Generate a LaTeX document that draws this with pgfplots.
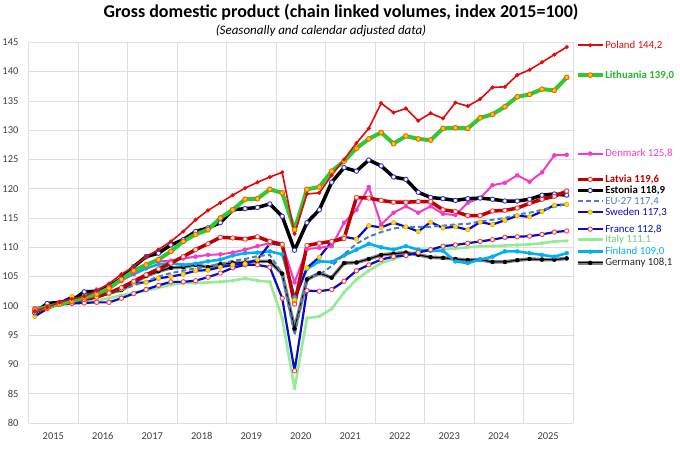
\documentclass[border=0pt]{standalone}
\usepackage{fontspec}
\setmainfont{Carlito}
\usepackage{pgfplots}
\pgfplotsset{compat=1.18}
\usepackage{pgfplotstable}
\definecolor{cPL}{RGB}{228,10,10}
\definecolor{cLT}{RGB}{50,200,50}
\definecolor{cLTt}{RGB}{40,180,40}
\definecolor{cLTm}{RGB}{255,200,0}
\definecolor{cLTd}{RGB}{230,100,10}
\definecolor{cDK}{RGB}{240,60,200}
\definecolor{cLV}{RGB}{192,0,0}
\definecolor{cEEm}{RGB}{50,50,210}
\definecolor{cEU}{RGB}{74,126,190}
\definecolor{cSE}{RGB}{10,10,200}
\definecolor{cSEm}{RGB}{255,225,0}
\definecolor{cSEd}{RGB}{220,170,0}
\definecolor{cFR}{RGB}{10,10,200}
\definecolor{cFRm}{RGB}{250,60,60}
\definecolor{cIT}{RGB}{150,235,150}
\definecolor{cITt}{RGB}{110,210,110}
\definecolor{cFI}{RGB}{0,176,240}
\definecolor{cDEg}{RGB}{128,128,128}
\definecolor{gridc}{RGB}{222,222,222}
\definecolor{tickc}{RGB}{64,64,64}
\pgfplotstableread{
i PL LT DK LV EE EU SE FR IT FI DE
0 99.1 99.3 99.6 99.1 98.8 99.3 98.2 99.5 99.6 98.9 99.3
1 99.8 99.8 100.0 99.6 100.4 99.8 99.5 100.0 99.9 100.4 99.9
2 100.6 100.3 100.4 100.5 100.6 100.2 100.5 100.3 100.2 100.6 100.3
3 101.2 100.8 100.6 100.8 100.9 100.7 101.6 100.4 100.4 101.0 100.5
4 101.6 101.4 101.4 101.1 102.4 101.3 101.3 100.5 100.7 101.8 101.6
5 102.6 102.0 102.8 101.5 102.5 101.6 101.6 100.6 100.9 102.3 102.0
6 103.8 103.0 103.3 102.2 103.3 102.1 102.1 100.6 101.3 103.3 102.2
7 105.4 104.5 104.2 103.1 104.7 102.7 102.9 101.3 101.8 104.5 102.7
8 106.7 106.0 105.6 104.2 106.7 103.5 103.9 102.1 102.2 105.4 104.0
9 108.4 107.0 107.0 105.3 108.4 104.2 104.0 102.8 102.6 106.4 105.1
10 109.6 107.9 107.6 106.3 109.0 105.0 104.7 103.5 103.1 107.1 105.9
11 111.0 109.3 107.7 107.3 110.4 105.6 105.0 104.1 103.6 107.3 106.5
12 112.7 111.0 108.1 108.4 111.3 106.0 105.4 104.1 103.9 107.0 106.6
13 114.7 112.2 108.4 109.6 112.7 106.4 106.0 104.3 103.9 107.2 107.0
14 116.3 113.0 108.7 110.6 113.3 106.7 106.1 104.9 104.0 107.6 106.6
15 117.6 115.0 108.8 111.7 114.2 107.1 106.6 105.6 104.1 107.9 107.1
16 118.9 116.4 109.1 111.6 116.4 107.7 107.0 106.5 104.3 108.6 107.3
17 120.1 118.2 109.6 111.4 116.6 108.0 107.2 107.0 104.7 109.0 107.4
18 121.1 118.3 110.2 111.8 116.8 108.5 107.9 107.0 104.3 109.1 107.6
19 122.0 119.9 110.7 111.0 117.4 108.7 110.6 106.6 104.1 109.3 107.6
20 122.8 119.3 110.6 110.5 115.3 105.5 110.4 101.3 97.9 108.8 105.5
21 112.3 113.0 104.0 100.3 109.5 95.0 101.0 88.9 85.9 101.5 96.1
22 119.1 119.9 109.7 110.3 114.2 104.8 106.5 102.6 97.9 106.3 104.5
23 119.3 120.3 109.9 110.7 116.4 105.3 108.3 102.5 98.2 107.6 105.6
24 122.3 123.0 110.2 111.0 121.1 106.8 111.0 102.8 99.5 107.5 104.8
25 125.0 124.7 114.2 111.5 123.6 108.8 111.8 104.2 102.3 108.6 107.3
26 127.8 126.9 116.4 118.5 123.0 110.6 111.4 106.0 104.5 109.6 107.4
27 130.3 128.5 120.3 118.4 124.9 111.8 113.7 107.0 106.0 110.6 108.0
28 134.6 129.6 113.9 118.0 123.9 112.6 113.4 107.9 107.3 110.0 108.7
29 133.0 127.7 115.9 117.7 122.0 113.2 114.2 108.4 108.0 109.6 108.9
30 133.7 129.0 117.0 117.7 121.6 113.5 113.5 108.6 108.7 110.2 109.1
31 131.6 128.5 115.9 117.8 119.4 113.5 112.7 109.1 109.3 109.6 108.7
32 132.9 128.3 117.0 117.8 118.5 113.5 114.3 109.6 109.7 109.4 108.3
33 132.0 130.3 115.7 116.4 118.3 113.7 113.3 110.2 109.7 109.4 108.2
34 134.7 130.4 115.5 116.1 118.0 113.9 113.5 110.4 109.8 107.6 108.0
35 134.1 130.3 117.6 115.4 118.3 114.0 113.0 110.7 110.0 107.3 107.8
36 135.3 132.1 118.4 115.4 118.4 114.4 114.3 111.0 110.2 107.9 107.9
37 137.3 132.7 120.6 116.2 118.2 114.7 113.9 111.3 110.2 108.4 107.5
38 137.4 134.0 121.0 116.3 117.9 115.0 114.6 111.7 110.3 109.3 107.5
39 139.4 135.7 122.3 116.7 117.9 115.6 115.4 111.8 110.4 109.3 107.8
40 140.3 136.1 121.2 117.5 118.2 115.9 115.2 111.9 110.5 109.0 108.0
41 141.6 137.0 122.8 118.2 118.9 116.4 116.1 112.2 110.7 108.7 107.9
42 142.9 136.8 125.7 118.7 119.1 116.9 117.2 112.6 111.0 108.4 107.9
43 144.2 139.0 125.8 119.6 118.9 117.4 117.3 112.8 111.1 109.0 108.1
}\gdp
\pgfplotsset{
  sPL/.style={color=cPL, line width=1.6pt, mark=*, mark size=1.9pt, mark options={solid, fill=cPL, draw=cPL, line width=0.4pt}},
  sLT/.style={color=cLT, line width=4pt, mark=*, mark size=2.4pt, mark options={solid, fill=cLTm, draw=cLTd, line width=0.9pt}},
  sDK/.style={color=cDK, line width=2pt, mark=*, mark size=2pt, mark options={solid, fill=cDK, draw=cDK, line width=0.4pt}},
  sLV/.style={color=cLV, line width=3.5pt, mark=*, mark size=2.2pt, mark options={solid, fill=white, draw=cFRm, line width=0.9pt}},
  sEE/.style={color=black, line width=3.5pt, mark=*, mark size=2.2pt, mark options={solid, fill=white, draw=cEEm, line width=0.9pt}},
  sEU/.style={color=cEU, line width=2pt, dash pattern=on 5pt off 3pt, mark=none},
  sSE/.style={color=cSE, line width=2.2pt, mark=*, mark size=2.2pt, mark options={solid, fill=cSEm, draw=cSEd, line width=0.6pt}},
  sFR/.style={color=cFR, line width=2.2pt, mark=*, mark size=2.2pt, mark options={solid, fill=white, draw=cFRm, line width=0.9pt}},
  sIT/.style={color=cIT, line width=2.6pt, mark=*, mark size=1.8pt, mark options={solid, fill=cIT, draw=cIT, line width=0.4pt}},
  sFI/.style={color=cFI, line width=2.6pt, mark=*, mark size=2pt, mark options={solid, fill=cFI, draw=cFI, line width=0.4pt}},
  sDEg/.style={color=cDEg, line width=3.6pt, mark=none},
  sDE/.style={color=black, line width=1.1pt, mark=*, mark size=2pt, mark options={solid, fill=black, draw=black, line width=0.4pt}},
}
\begin{document}
\begin{tikzpicture}[x=1pt,y=1pt]
\path[use as bounding box] (0,0) rectangle (680,448);
\node[font=\bfseries\fontsize{18}{20}\selectfont] at (341,435.5) {Gross domestic product (chain linked volumes, index 2015=100)};
\node[font=\itshape\fontsize{13}{15}\selectfont] at (321,417.5) {(Seasonally and calendar adjusted data)};
\begin{axis}[
  at={(28.6pt,25pt)}, anchor=south west,
  scale only axis, width=544.3pt, height=380.7pt,
  xmin=-0.5, xmax=43.5, ymin=80, ymax=145,
  clip=false,
  axis line style={draw=none},
  major tick length=0pt, minor tick length=0pt,
  ytick={80,85,...,145},
  xtick={1.5,5.5,...,41.5},
  xticklabels={2015,2016,2017,2018,2019,2020,2021,2022,2023,2024,2025},
  minor xtick={-0.5,3.5,...,43.5},
  xminorgrids=true, ymajorgrids=true, xmajorgrids=false,
  grid style={draw=gridc, line width=0.7pt},
  minor grid style={draw=gridc, line width=0.7pt},
  ticklabel style={font=\fontsize{10.5}{12}\selectfont, text=tickc},
  yticklabel style={inner sep=0pt, anchor=east, xshift=-10pt},
  xticklabel style={inner sep=0pt, anchor=north, yshift=-9pt},
  /pgf/number format/assume math mode=true,
  line join=round,
]
\addplot[sIT] table[x=i,y=IT]{\gdp};
\addplot[sDEg] table[x=i,y=DE]{\gdp};
\addplot[sDE] table[x=i,y=DE]{\gdp};
\addplot[sFI] table[x=i,y=FI]{\gdp};
\addplot[sFR] table[x=i,y=FR]{\gdp};
\addplot[sSE] table[x=i,y=SE]{\gdp};
\addplot[sEU] table[x=i,y=EU]{\gdp};
\addplot[sDK] table[x=i,y=DK]{\gdp};
\addplot[sEE] table[x=i,y=EE]{\gdp};
\addplot[sLV] table[x=i,y=LV]{\gdp};
\addplot[sLT] table[x=i,y=LT]{\gdp};
\addplot[sPL] table[x=i,y=PL]{\gdp};
% label keys
\addplot[sPL, mark indices={2}] coordinates {(43.9,144.5) (44.9,144.5) (45.9,144.5)};
\addplot[sLT, mark indices={2}] coordinates {(43.9,139.4) (44.9,139.4) (45.9,139.4)};
\addplot[sDK, mark indices={2}] coordinates {(43.9,126.0) (44.9,126.0) (45.9,126.0)};
\addplot[sLV, mark indices={2}] coordinates {(43.9,121.6) (44.9,121.6) (45.9,121.6)};
\addplot[sEE, mark indices={2}] coordinates {(43.9,119.7) (44.9,119.7) (45.9,119.7)};
\addplot[sEU] coordinates {(43.9,117.85) (45.9,117.85)};
\addplot[sSE, mark indices={2}] coordinates {(43.9,116.0) (44.9,116.0) (45.9,116.0)};
\addplot[sFR, mark indices={2}] coordinates {(43.9,113.1) (44.9,113.1) (45.9,113.1)};
\addplot[sIT, mark indices={2}] coordinates {(43.9,111.35) (44.9,111.35) (45.9,111.35)};
\addplot[sFI, mark indices={2}] coordinates {(43.9,109.25) (44.9,109.25) (45.9,109.25)};
\addplot[sDEg] coordinates {(43.9,107.35) (45.9,107.35)};
\addplot[sDE, mark indices={2}] coordinates {(43.9,107.35) (44.9,107.35) (45.9,107.35)};
\begin{scope}[every node/.style={anchor=west, inner sep=0pt, font=\fontsize{10.8}{12}\selectfont}]
\node[text=cPL] at (axis cs:46.1,144.5) {Poland 144,2};
\node[text=cLTt, font=\bfseries\fontsize{10.8}{12}\selectfont] at (axis cs:46.1,139.4) {Lithuania 139,0};
\node[text=cDK] at (axis cs:46.1,126.0) {Denmark 125,8};
\node[text=cLV, font=\bfseries\fontsize{10.8}{12}\selectfont] at (axis cs:46.1,121.6) {Latvia 119,6};
\node[text=black, font=\bfseries\fontsize{10.8}{12}\selectfont] at (axis cs:46.1,119.7) {Estonia 118,9};
\node[text=cEU] at (axis cs:46.1,117.85) {EU-27 117,4};
\node[text=cSE] at (axis cs:46.1,116.0) {Sweden 117,3};
\node[text=cFR] at (axis cs:46.1,113.1) {France 112,8};
\node[text=cITt] at (axis cs:46.1,111.35) {Italy 111,1};
\node[text=cFI] at (axis cs:46.1,109.25) {Finland 109,0};
\node[text=black!85] at (axis cs:46.1,107.35) {Germany 108,1};
\end{scope}
\end{axis}
\end{tikzpicture}
\end{document}
